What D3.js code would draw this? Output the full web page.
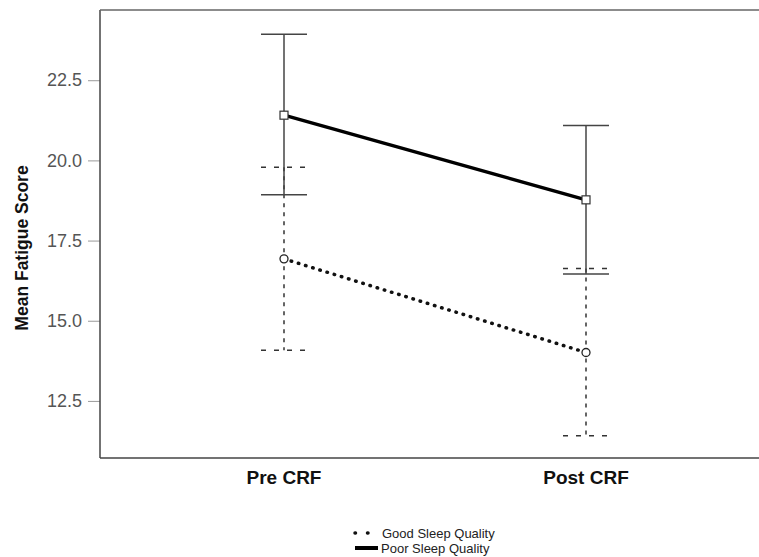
<!DOCTYPE html>
<html>
<head>
<meta charset="utf-8">
<script src="https://cdn.jsdelivr.net/npm/d3@7"></script>
<style>
  body { margin: 0; background: #fff; }
  svg { font-family: Arial, "Liberation Sans", sans-serif; }
</style>
</head>
<body>
<svg id="chart" width="759" height="557"></svg>
<script>
// chart data
const timepoints = ['Pre CRF', 'Post CRF'];
const goodMean = [16.93, 14.01];
const goodUpper = [19.79, 16.63];
const goodLower = [14.08, 11.41];
const poorMean = [21.41, 18.77];
const poorUpper = [23.93, 21.09];
const poorLower = [18.93, 16.46];
const yTicks = [12.5, 15.0, 17.5, 20.0, 22.5];

const svg = d3.select('#chart');
const margin = { top: 10, right: 0, bottom: 100, left: 100 };
const width = 759, height = 557;
const innerWidth = width - margin.left - margin.right;
const innerHeight = 458 - margin.top;

const g = svg.append('g')
    .attr('transform', `translate(${margin.left}, ${margin.top})`);

// scales
const xScale = d3.scalePoint()
    .domain(timepoints)
    .range([184, 486]);
const yScale = d3.scaleLinear()
    .domain([10.72, 24.69])
    .range([innerHeight, 0]);

// y axis
const yAxis = d3.axisLeft(yScale)
    .tickValues(yTicks)
    .tickFormat(d3.format('.1f'))
    .tickSizeInner(12)
    .tickSizeOuter(0)
    .tickPadding(6);
const yAxisG = g.append('g').call(yAxis);
yAxisG.select('.domain').remove();
yAxisG.selectAll('.tick line').attr('stroke', '#999').attr('stroke-width', 1);
yAxisG.selectAll('.tick text')
    .attr('fill', '#555')
    .attr('font-size', 18);

// frame: left and bottom lines, top line to the edge
g.append('line').attr('x1', 0).attr('x2', 0).attr('y1', 0).attr('y2', innerHeight)
    .attr('stroke', '#444').attr('stroke-width', 1.5);
g.append('line').attr('x1', 0).attr('x2', innerWidth).attr('y1', innerHeight).attr('y2', innerHeight)
    .attr('stroke', '#444').attr('stroke-width', 1.5);
g.append('line').attr('x1', 0).attr('x2', innerWidth).attr('y1', 0).attr('y2', 0)
    .attr('stroke', '#666').attr('stroke-width', 1.5);

// x category labels
g.selectAll('text.cat')
    .data(timepoints)
    .enter()
    .append('text')
    .attr('class', 'cat')
    .attr('x', d => xScale(d))
    .attr('y', 484 - margin.top)
    .attr('text-anchor', 'middle')
    .attr('font-size', 19)
    .attr('font-weight', 'bold')
    .attr('fill', '#111')
    .text(d => d);

// y axis title
g.append('text')
    .attr('transform', 'rotate(-90)')
    .attr('x', -(248 - margin.top))
    .attr('y', -72)
    .attr('text-anchor', 'middle')
    .attr('font-size', 17.5)
    .attr('font-weight', 'bold')
    .attr('fill', '#111')
    .text('Mean Fatigue Score');

const capHalf = 23;

// error bars
function drawErrorBars(upper, lower, dash, capDash, color) {
    timepoints.forEach((t, i) => {
        const x = xScale(t);
        g.append('line')
            .attr('x1', x).attr('x2', x)
            .attr('y1', yScale(upper[i])).attr('y2', yScale(lower[i]))
            .attr('stroke', color).attr('stroke-width', 1.5)
            .attr('stroke-dasharray', dash);
        [upper[i], lower[i]].forEach(v => {
            g.append('line')
                .attr('x1', x - capHalf).attr('x2', x + capHalf)
                .attr('y1', yScale(v)).attr('y2', yScale(v))
                .attr('stroke', color).attr('stroke-width', 1.5)
                .attr('stroke-dasharray', capDash);
        });
    });
}
drawErrorBars(goodUpper, goodLower, '4,5', '5,8', '#333');
drawErrorBars(poorUpper, poorLower, null, null, '#444');

// series lines
const line = d3.line()
    .x((d, i) => xScale(timepoints[i]))
    .y(d => yScale(d));

g.append('path')
    .datum(goodMean)
    .attr('d', line)
    .attr('fill', 'none')
    .attr('stroke', '#111')
    .attr('stroke-width', 3.5)
    .attr('stroke-linecap', 'round')
    .attr('stroke-dasharray', '0.5,7');

g.append('path')
    .datum(poorMean)
    .attr('d', line)
    .attr('fill', 'none')
    .attr('stroke', '#000')
    .attr('stroke-width', 3.5);

// markers
g.selectAll('circle.good')
    .data(goodMean)
    .enter()
    .append('circle')
    .attr('class', 'good')
    .attr('cx', (d, i) => xScale(timepoints[i]))
    .attr('cy', d => yScale(d))
    .attr('r', 4)
    .attr('fill', '#fff')
    .attr('stroke', '#222')
    .attr('stroke-width', 1.3);

g.selectAll('rect.poor')
    .data(poorMean)
    .enter()
    .append('rect')
    .attr('class', 'poor')
    .attr('x', (d, i) => xScale(timepoints[i]) - 4)
    .attr('y', d => yScale(d) - 4)
    .attr('width', 8)
    .attr('height', 8)
    .attr('fill', '#fff')
    .attr('stroke', '#333')
    .attr('stroke-width', 1.2);

// legend
const legend = svg.append('g').attr('transform', 'translate(355, 533)');
legend.append('line')
    .attr('x1', 0).attr('x2', 23).attr('y1', 0).attr('y2', 0)
    .attr('stroke', '#111').attr('stroke-width', 3.5)
    .attr('stroke-linecap', 'round')
    .attr('stroke-dasharray', '0.5,12');
legend.append('text')
    .attr('x', 27).attr('y', 4.5)
    .attr('font-size', 13)
    .attr('fill', '#222')
    .text('Good Sleep Quality');
legend.append('line')
    .attr('x1', 0).attr('x2', 23).attr('y1', 15).attr('y2', 15)
    .attr('stroke', '#000').attr('stroke-width', 4);
legend.append('text')
    .attr('x', 26).attr('y', 20)
    .attr('font-size', 13)
    .attr('fill', '#222')
    .text('Poor Sleep Quality');
</script>
</body>
</html>
